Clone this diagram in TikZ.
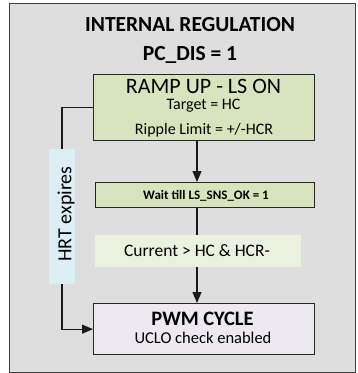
\documentclass[tikz,border=0pt]{standalone}
\usepackage{fontspec}
\setmainfont{Carlito}
\usetikzlibrary{arrows.meta}
\definecolor{panelgray}{HTML}{DEDEDE}
\definecolor{panelline}{HTML}{404040}
\definecolor{rampgreen}{HTML}{D7E4BD}
\definecolor{condgreen}{HTML}{EBF1DE}
\definecolor{pwmlav}{HTML}{ECE9F1}
\definecolor{hrtblue}{HTML}{DBEEF4}
\newcommand{\fs}[1]{\fontsize{#1}{#1}\selectfont}
\begin{document}
\begin{tikzpicture}[x=1pt,y=-1pt,
  box/.style={draw=black!85,line width=1.3pt,inner sep=0pt,anchor=north west},
  plainbox/.style={inner sep=0pt,anchor=north west},
  lbl/.style={inner sep=0pt,anchor=base},
  conn/.style={line width=1.1pt,draw=black!90},
  arr/.style={conn,-{Triangle[length=11pt,width=9pt]}}]
\useasboundingbox (0,0) rectangle (358,373);
\node[plainbox,fill=panelgray,draw=panelline,line width=1.2pt,minimum width=346pt,minimum height=369pt] (panel) at (9,3) {};
\node[lbl] (t1) at (190,31.5) {\fs{21.5}\bfseries INTERNAL REGULATION};
\node[lbl] (t2) at (190,60) {\fs{21.5}\bfseries PC\_DIS = 1};
% boxes
\node[box,fill=rampgreen,minimum width=221pt,minimum height=66pt] (ramp) at (93,74) {};
\node[box,fill=rampgreen,minimum width=219pt,minimum height=25pt] (wait) at (95,182) {};
\node[plainbox,fill=condgreen,minimum width=206pt,minimum height=32pt] (cond) at (95,235) {};
\node[box,fill=pwmlav,minimum width=221pt,minimum height=51pt] (pwm) at (93,303) {};
\node[plainbox,fill=hrtblue,minimum width=26pt,minimum height=135pt] (hrt) at (49,149) {};
% texts
\node[lbl] (r1) at (203.5,93.3) {\fs{22}RAMP UP - LS ON};
\node[lbl] (r2) at (203.5,109.3) {\fs{16}Target = HC};
\node[lbl] (r3) at (204,134) {\fs{16}Ripple Limit = +/-HCR};
\node[lbl] (w1) at (206,199.3) {\fs{13}\bfseries Wait till LS\_SNS\_OK = 1};
\node[lbl] (c1) at (197,256) {\fs{17.5}Current > HC \& HCR-};
\node[lbl] (p1) at (202.5,325) {\fs{20.5}\bfseries PWM CYCLE};
\node[lbl] (p2) at (203,343) {\fs{16.5}UCLO check enabled};
\node[lbl,rotate=90] (h1) at (71.3,214) {\fs{20}HRT expires};
% connectors
\coordinate (ax) at (197,0);
\coordinate (lx) at (62,0);
\draw[arr] (ramp.south -| ax) -- (wait.north -| ax);
\draw[conn] (wait.south -| ax) -- (cond.north -| ax);
\draw[arr] (cond.south -| ax) -- (pwm.north -| ax);
\draw[conn] (ramp.west) -- (ramp.west -| lx) -- (hrt.north -| lx);
\draw[arr] (hrt.south -| lx) -- (pwm.west -| lx) -- (pwm.west);
\end{tikzpicture}
\end{document}
